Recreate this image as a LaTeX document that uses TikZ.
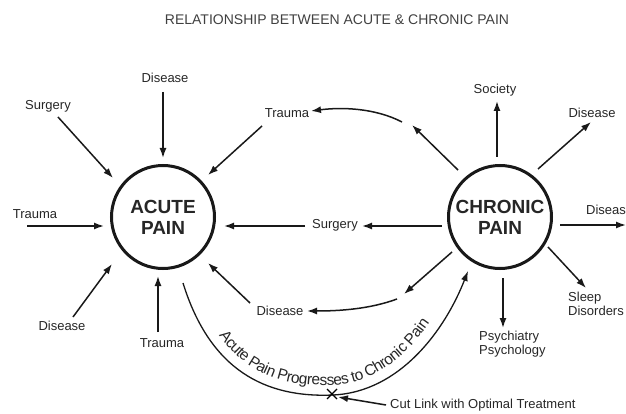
\documentclass[tikz,border=0pt]{standalone}
\usepackage{fontspec}
\setmainfont{Liberation Sans}
\usetikzlibrary{arrows.meta,decorations.text}
\begin{document}
\begin{tikzpicture}[x=1pt,y=-1pt,
  lbl/.style={font=\fontsize{13}{14}\selectfont, text=black!85, inner sep=0pt},
  lbll/.style={lbl, anchor=west, align=left},
  arr/.style={line width=1.5pt, draw=black!90, -{Latex[length=10pt,width=7pt]}},
  bignode/.style={circle, draw=black!90, line width=3pt, minimum size=103pt, inner sep=0pt,
    align=center, font=\fontsize{19}{21}\selectfont\bfseries, text=black!85}]
\clip (0,0) rectangle (626,414);
% title
\node[lbl, font=\fontsize{14}{16}\selectfont, text=black!75] (title) at (337,20) {RELATIONSHIP BETWEEN ACUTE \& CHRONIC PAIN};
% circles
\node[bignode] (acute) at (163,217) {ACUTE\\PAIN};
\node[bignode] (chronic) at (500,217) {CHRONIC\\PAIN};
% labels around acute
\node[lbl] (surg1) at (48,106) {Surgery};
\node[lbl] (dis1) at (165,78) {Disease};
\node[lbl] (trau1) at (287,113) {Trauma};
\node[lbl] (trau2) at (35,214) {Trauma};
\node[lbl] (surg2) at (335,225) {Surgery};
\node[lbl] (dis2) at (62,326) {Disease};
\node[lbl] (trau3) at (162,343) {Trauma};
\node[lbl] (dis3) at (280,311) {Disease};
% labels around chronic
\node[lbl] (soc) at (495,90) {Society};
\node[lbl] (dis4) at (592,113) {Disease};
\node[lbll] (dis5) at (586,210) {Disease};
\node[lbll] (psy) at (479,344) {Psychiatry\\Psychology};
\node[lbll] (sleep) at (568,304) {Sleep\\Disorders};
\node[lbll] (cut) at (390,405) {Cut Link with Optimal Treatment};
% coordinates
\coordinate (s1a) at (58,117);   \coordinate (s1b) at (113,178);
\coordinate (d1a) at (163,92);   \coordinate (d1b) at (163,158);
\coordinate (t1a) at (262,126);  \coordinate (t1b) at (208,175);
\coordinate (t2a) at (27,226);   \coordinate (t2b) at (104,226);
\coordinate (s2a) at (305,226);  \coordinate (s2b) at (224,226);
\coordinate (d2a) at (73,317);   \coordinate (d2b) at (112,264);
\coordinate (t3a) at (158,332);  \coordinate (t3b) at (158,276);
\coordinate (d3a) at (250,303);  \coordinate (d3b) at (208,263);
\coordinate (c1a) at (458,170);  \coordinate (c1b) at (412,125);
\coordinate (c2a) at (402,122);  \coordinate (c2b) at (311,111);
\coordinate (soca) at (497,157); \coordinate (socb) at (497,101);
\coordinate (d4a) at (538,169);  \coordinate (d4b) at (591,122);
\coordinate (d5a) at (560,225);  \coordinate (d5b) at (626,225);
\coordinate (s3a) at (442,226);  \coordinate (s3b) at (362,226);
\coordinate (c3a) at (452,252);  \coordinate (c3b) at (404,294);
\coordinate (c4a) at (397,299);  \coordinate (c4b) at (307,311);
\coordinate (psa) at (503,278);  \coordinate (psb) at (503,328);
\coordinate (sla) at (548,247);  \coordinate (slb) at (586,288);
\coordinate (pra) at (183,283);  \coordinate (prm) at (333,395); \coordinate (prb) at (468,271);
\coordinate (cua) at (386,405);  \coordinate (cub) at (338,397);
\coordinate (xm) at (332,394);
% arrows into acute
\draw[arr] (s1a) -- (s1b);
\draw[arr] (d1a) -- (d1b);
\draw[arr] (t1a) -- (t1b);
\draw[arr] (t2a) -- (t2b);
\draw[arr] (s2a) -- (s2b);
\draw[arr] (d2a) -- (d2b);
\draw[arr] (t3a) -- (t3b);
\draw[arr] (d3a) -- (d3b);
% arrows out of chronic
\draw[arr] (c1a) -- (c1b);
\draw[arr] (c2a) .. controls (375,108) and (342,107) .. (c2b);
\draw[arr] (soca) -- (socb);
\draw[arr] (d4a) -- (d4b);
\draw[arr] (d5a) -- (d5b);
\draw[arr] (s3a) -- (s3b);
\draw[arr] (c3a) -- (c3b);
\draw[arr] (c4a) .. controls (370,309) and (340,311) .. (c4b);
\draw[arr] (psa) -- (psb);
\draw[arr] (sla) -- (slb);
% progression curve
\draw[arr, line width=1.3pt] (pra) .. controls (210,370) and (265,398) .. (prm)
   .. controls (400,392) and (445,330) .. (prb);
\path[decorate,
   decoration={text along path, raise=10pt, text align=center,
   text={|\fontsize{15.5}{17}\selectfont\color{black!85}|Acute Pain Progresses to Chronic Pain}}]
   (pra) .. controls (210,370) and (265,398) .. (prm)
   .. controls (400,392) and (445,330) .. (prb);
% X mark
\draw[line width=1.2pt] ([shift={(-5,-5)}]xm) -- ([shift={(5,5)}]xm);
\draw[line width=1.2pt] ([shift={(-5,5)}]xm) -- ([shift={(5,-5)}]xm);
\draw[arr] (cua) -- (cub);
\end{tikzpicture}
\end{document}
